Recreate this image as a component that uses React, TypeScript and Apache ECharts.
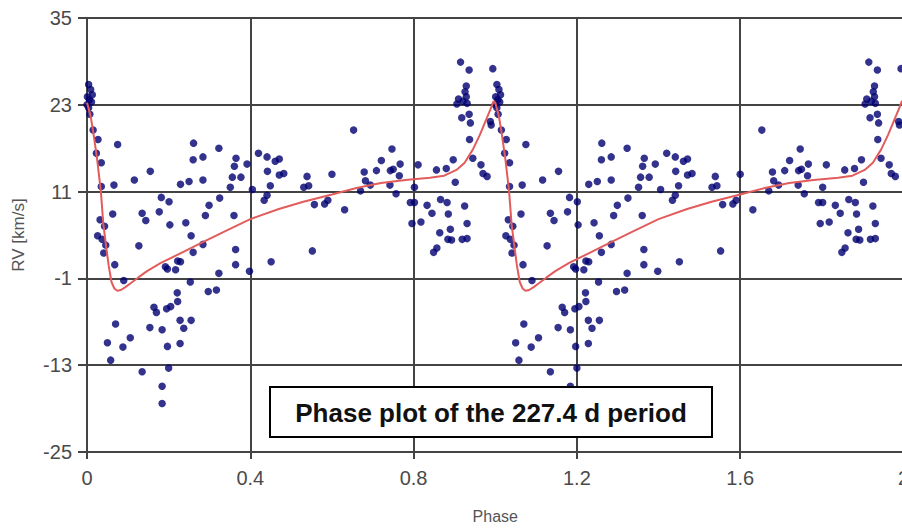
import React, { useEffect, useRef } from "react";
import * as echarts from "echarts";

// Observed radial velocities folded on phase 0..1 (plotted twice: phase and phase + 1)
const obsPoints: [number, number][] = [
  [0.004, 25.8], [0.009, 25.1], [0.001, 24.1], [0.013, 24.4], [0.006, 23.7], [0.0, 23.0], [0.011, 23.4], [0.004, 22.6], [0.007, 21.7],
  [0.015, 19.5], [0.027, 18.2], [0.023, 16.3], [0.035, 15.0], [0.035, 11.7], [0.032, 7.1], [0.043, 6.2], [0.026, 4.9], [0.037, 4.4], [0.046, 3.6], [0.041, 2.5],
  [0.075, 17.5], [0.066, 11.9], [0.116, 12.6], [0.155, 13.8], [0.063, 7.9], [0.135, 8.0], [0.144, 7.0], [0.068, 0.9], [0.09, -1.3], [0.127, 3.5],
  [0.07, -7.3], [0.106, -9.2], [0.05, -9.9], [0.088, -10.5], [0.058, -12.3], [0.135, -13.9],
  [0.261, 17.7], [0.26, 15.4], [0.284, 15.8], [0.323, 17.0], [0.229, 12.0], [0.25, 12.4], [0.284, 12.6], [0.182, 10.2], [0.201, 9.6], [0.177, 8.2],
  [0.299, 9.1], [0.29, 7.7], [0.325, 10.1], [0.203, 6.4], [0.242, 6.7], [0.255, 4.9],
  [0.284, 3.7], [0.26, 2.6], [0.229, 1.3], [0.222, 1.4], [0.217, 0.2], [0.192, 0.6], [0.197, 0.3], [0.323, -0.3], [0.253, -1.5], [0.297, -2.8], [0.317, -2.6], [0.221, -3.0],
  [0.164, -5.0], [0.17, -5.7], [0.195, -5.2], [0.205, -4.9], [0.222, -4.2], [0.154, -7.8], [0.184, -8.1], [0.228, -6.8], [0.237, -7.9], [0.255, -6.8],
  [0.197, -10.4], [0.228, -10.0], [0.2, -13.4], [0.184, -15.9], [0.184, -18.3],
  [0.365, 15.6], [0.361, 14.5], [0.392, 14.8], [0.356, 13.0], [0.377, 13.0], [0.351, 11.6], [0.405, 11.3], [0.36, 7.7], [0.42, 16.3], [0.441, 15.8],
  [0.461, 15.2], [0.471, 15.5], [0.442, 13.8], [0.471, 13.3], [0.482, 13.5], [0.449, 11.8], [0.441, 10.5], [0.434, 9.8], [0.531, 11.6], [0.543, 11.8],
  [0.539, 13.1], [0.6, 13.4], [0.557, 9.2], [0.582, 9.3], [0.59, 9.8], [0.631, 8.5], [0.653, 19.5],
  [0.364, 3.0], [0.364, 0.9], [0.398, 0.0], [0.451, 1.3], [0.552, 2.8],
  [0.915, 28.9], [0.936, 27.8], [0.994, 28.0], [0.929, 25.6], [0.926, 24.8], [0.929, 24.1], [0.91, 23.8], [0.906, 23.1], [0.921, 23.5], [0.931, 23.2],
  [0.918, 21.2], [0.936, 21.7], [0.939, 20.5], [0.937, 18.2], [0.945, 15.6], [0.965, 14.7], [0.97, 13.5], [0.98, 13.1], [0.988, 20.7], [0.99, 20.2],
  [0.897, 15.4], [0.88, 14.2], [0.856, 14.0], [0.902, 12.3], [0.811, 14.7], [0.802, 11.6], [0.747, 16.9], [0.721, 15.3], [0.767, 14.8], [0.75, 14.1],
  [0.743, 13.9], [0.709, 13.9], [0.679, 13.7], [0.765, 13.2], [0.682, 12.5], [0.694, 11.9], [0.742, 11.9], [0.67, 11.1], [0.757, 10.7], [0.792, 9.5],
  [0.802, 9.5], [0.833, 9.1], [0.845, 8.0], [0.866, 9.9], [0.882, 9.5], [0.885, 7.9], [0.925, 9.0], [0.796, 6.6], [0.818, 6.8], [0.864, 5.3],
  [0.89, 5.8], [0.931, 6.6], [0.884, 4.4], [0.893, 4.3], [0.919, 4.4], [0.931, 4.5], [0.849, 2.6], [0.857, 3.2],
];

// Orbital fit curve over one phase cycle
const fitPhase = [
  0.0, 0.009, 0.017, 0.025, 0.034, 0.04, 0.046, 0.053, 0.06, 0.067, 0.074, 0.083, 0.094, 0.106, 0.125, 0.147,
  0.18, 0.23, 0.28, 0.33, 0.4, 0.47, 0.53, 0.6, 0.66, 0.72, 0.78, 0.84, 0.875, 0.905, 0.925, 0.945, 0.962, 0.978, 0.99, 0.996, 1.0,
];
const fitRV = [
  23.3, 21.4, 18.6, 15.4, 11.0, 6.5, 3.8, 0.8, -1.5, -2.4, -2.7, -2.6, -2.2, -1.7, -0.9, 0.0,
  1.1, 2.5, 3.9, 5.3, 7.2, 8.6, 9.6, 10.6, 11.5, 12.2, 12.6, 12.9, 13.2, 14.0, 15.0, 16.8, 18.8, 21.0, 22.6, 23.5, 23.3,
];

const cycles = [0, 1];
const yTickLabels = ["-25", "-13", "-1", "11", "23", "35"];
const titleText = "Phase plot of the 227.4 d period";

export default function App() {
  const ref = useRef<HTMLDivElement>(null);

  useEffect(() => {
    if (!ref.current) return;
    const chart = echarts.init(ref.current, undefined, { renderer: "svg" });

    const scatterData = cycles.flatMap((c) => obsPoints.map(([p, v]) => [p + c, v]));
    const lineData = cycles.flatMap((c) => fitPhase.map((p, i) => [p + c, fitRV[i]]));

    const gridColor = "#444";
    const labelColor = "#4a4a4a";
    const font = "'Liberation Sans', Arial, sans-serif";

    chart.setOption({
      animation: false,
      backgroundColor: "#fff",
      grid: {
        left: 87,
        top: 18,
        width: 816.5,
        height: 434,
        containLabel: false,
        outerBoundsMode: "none",
      },
      xAxis: {
        type: "value",
        min: 0,
        max: 2,
        interval: 0.4,
        name: "Phase",
        nameLocation: "middle",
        nameGap: 56,
        nameTextStyle: { color: "#555", fontSize: 16, fontFamily: font },
        axisLine: { show: true, onZero: false, lineStyle: { color: gridColor, width: 2 } },
        axisTick: { show: true, length: 7, lineStyle: { color: gridColor, width: 2 } },
        axisLabel: { color: labelColor, fontSize: 20, fontFamily: font, margin: 16 },
        splitLine: { show: true, lineStyle: { color: gridColor, width: 2 } },
      },
      yAxis: [
        {
          type: "value",
          min: -25,
          max: 35,
          position: "right",
          show: false,
          splitLine: { show: false },
        },
        {
          type: "category",
          data: yTickLabels,
          boundaryGap: false,
          position: "left",
          name: "RV [km/s]",
          nameLocation: "middle",
          nameRotate: 90,
          nameGap: 60,
          nameTextStyle: { color: "#555", fontSize: 17, fontFamily: font },
          axisLine: { show: true, onZero: false, lineStyle: { color: gridColor, width: 2 } },
          axisTick: { show: true, length: 9, alignWithLabel: true, lineStyle: { color: gridColor, width: 2 } },
          axisLabel: { color: labelColor, fontSize: 20, fontFamily: font, margin: 15 },
          splitLine: { show: true, lineStyle: { color: gridColor, width: 2 } },
        },
      ],
      series: [
        {
          type: "scatter",
          yAxisIndex: 0,
          data: scatterData,
          symbol: "circle",
          symbolSize: 7.5,
          itemStyle: { color: "#000070" },
          z: 3,
        },
        {
          type: "line",
          yAxisIndex: 0,
          data: lineData,
          showSymbol: false,
          smooth: false,
          lineStyle: { color: "#e25c5c", width: 2 },
          z: 4,
        },
      ],
      graphic: [
        {
          type: "rect",
          z: 100,
          shape: { x: 270, y: 387, width: 442, height: 50 },
          style: { fill: "#fff", stroke: "#000", lineWidth: 2 },
        },
        {
          type: "text",
          z: 101,
          x: 491,
          y: 413,
          style: {
            text: titleText,
            fill: "#111",
            font: `bold 26px ${font}`,
            fontSize: 26,
            fontWeight: "bold",
            fontFamily: font,
            align: "center",
            verticalAlign: "middle",
          },
        },
      ],
    });

    return () => chart.dispose();
  }, []);

  return (
    <div
      ref={ref}
      style={{ position: "absolute", left: 0, top: 0, width: 902, height: 528, background: "#fff" }}
    />
  );
}
